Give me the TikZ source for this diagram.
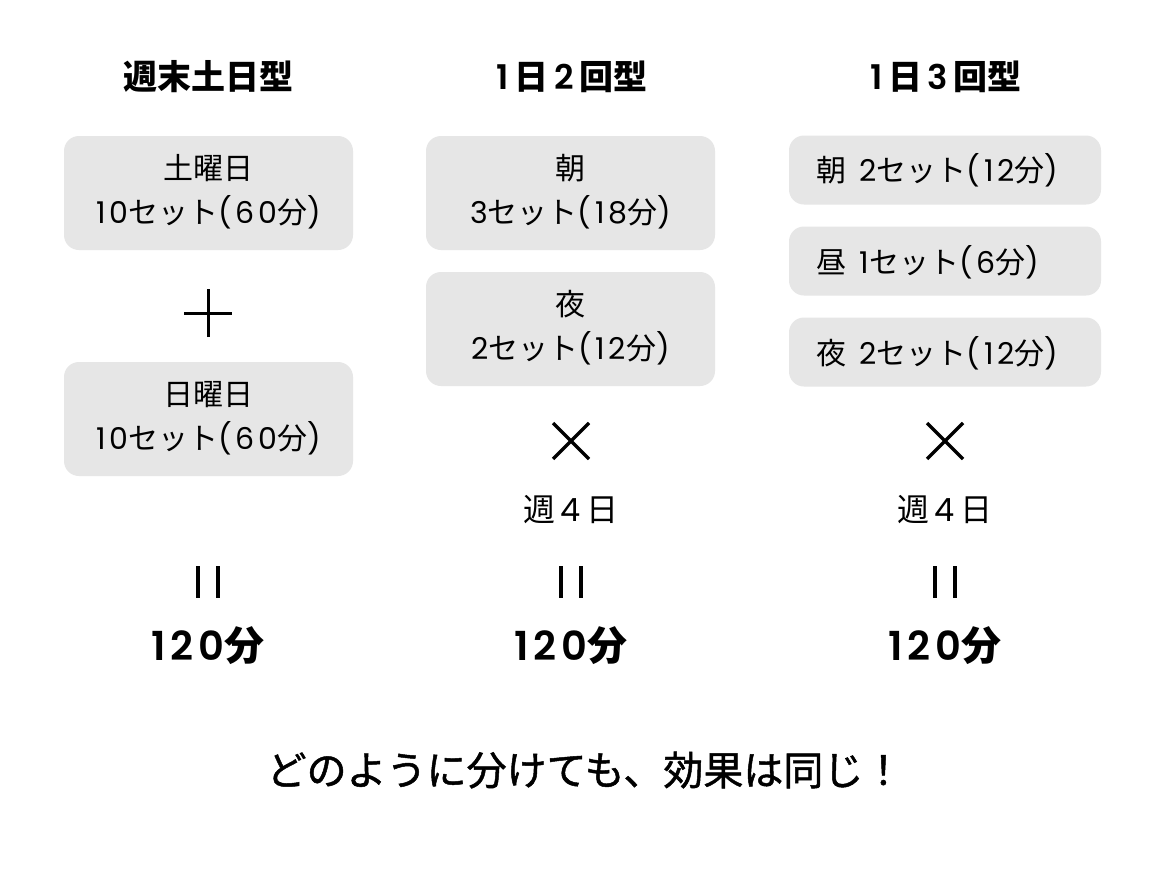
\documentclass[tikz,border=0pt]{standalone}
\usepackage{fontspec}
\setmainfont{Noto Sans CJK JP}
\newfontfamily\latf{Poppins}[BoldFont={Poppins SemiBold},LetterSpace=12]
\newcommand\lt[1]{{\latf #1}}
\newcommand\jsp{\hspace{0.45em}}
\definecolor{boxgray}{HTML}{E6E6E6}
\begin{document}
\begin{tikzpicture}[x=1pt,y=-1pt,
  box/.style={fill=boxgray,rounded corners=15pt,draw=none,inner sep=0pt},
  bigbox/.style={box,minimum width=289pt,minimum height=114pt},
  smallbox/.style={box,minimum width=312pt,minimum height=69pt},
  boxtext/.style={font=\fontsize{30}{44}\selectfont,align=center,inner sep=0pt},
  head/.style={font=\fontsize{34}{40}\selectfont\bfseries,inner sep=0pt},
  total/.style={font=\fontsize{40}{46}\selectfont\bfseries,inner sep=0pt},
  weekt/.style={font=\fontsize{32}{36}\selectfont,inner sep=0pt},
  sym/.style={line width=3.5pt},
  eq/.style={line width=4pt}]
\useasboundingbox[fill=white] (0,0) rectangle (1166,881);
% headers
\node[head] (h1) at (208,77) {週末土日型};
\node[head] (h2) at (572,77) {\lt{1\,}日\lt{\,2\,}回型};
\node[head] (h3) at (946,77) {\lt{1\,}日\lt{\,3\,}回型};
% column 1
\node[bigbox] (a1) at (208.5,193) {};
\node[boxtext] (a1t) at (208.5,192) {土曜日\\\lt{10}セット\lt{(60}分\lt{)}};
\node[bigbox] (a2) at (208.5,419) {};
\node[boxtext] (a2t) at (208.5,418) {日曜日\\\lt{10}セット\lt{(60}分\lt{)}};
\coordinate (plus) at (208,313);
\draw[line width=3pt] ([xshift=-24pt]plus) -- ([xshift=24pt]plus)
  ([yshift=-24pt]plus) -- ([yshift=24pt]plus);
% column 2
\node[bigbox] (b1) at (570.5,193) {};
\node[boxtext] (b1t) at (570.5,192) {朝\\\lt{3}セット\lt{(18}分\lt{)}};
\node[bigbox] (b2) at (570.5,329) {};
\node[boxtext] (b2t) at (570.5,328) {夜\\\lt{2}セット\lt{(12}分\lt{)}};
% column 3
\node[smallbox] (c1) at (945,170) {};
\node[boxtext,anchor=west] (c1t) at (816,170) {朝\jsp\lt{2}セット\lt{(12}分\lt{)}};
\node[smallbox] (c2) at (945,261) {};
\node[boxtext,anchor=west] (c2t) at (816,262) {昼\jsp\lt{1}セット\lt{(6}分\lt{)}};
\node[smallbox] (c3) at (945,352) {};
\node[boxtext,anchor=west] (c3t) at (816,353) {夜\jsp\lt{2}セット\lt{(12}分\lt{)}};
% times
\foreach \x/\n in {571/2,945/3}{
  \coordinate (x\n) at (\x,441);
  \draw[sym] ([shift={(-18,-18)}]x\n) -- ([shift={(18,18)}]x\n)
    ([shift={(-18,18)}]x\n) -- ([shift={(18,-18)}]x\n);
  \node[weekt] (w\n) at (\x,510) {週\lt{\,4\,}日};
}
% equals (vertical)
\foreach \x/\n in {208/1,571/2,945/3}{
  \coordinate (e\n) at (\x,582);
  \draw[eq] ([shift={(-10,-16)}]e\n) -- ([shift={(-10,16)}]e\n)
    ([shift={(10,-16)}]e\n) -- ([shift={(10,16)}]e\n);
  \node[total] (t\n) at (\x,646) {\lt{120}分};
}
% bottom
\node[font=\fontsize{40}{44}\selectfont\addfontfeature{FakeBold=1.2},inner sep=0pt] (bottom) at (585,770) {どのように分けても、効果は同じ！};
\end{tikzpicture}
\end{document}
